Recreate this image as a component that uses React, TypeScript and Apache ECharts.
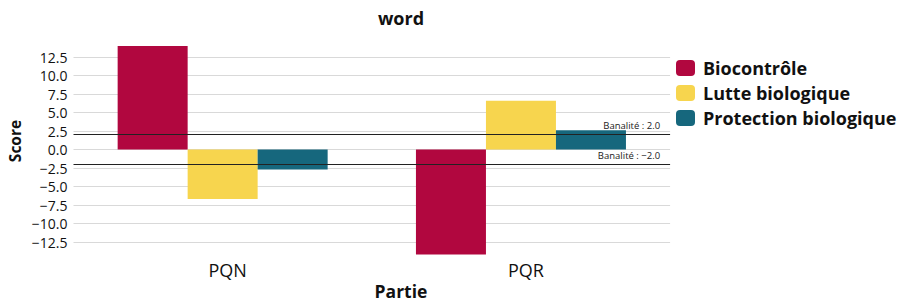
import React, { useEffect, useRef } from "react";
import * as echarts from "echarts";

const categories = ["PQN", "PQR"];
const seriesNames = ["Biocontrôle", "Lutte biologique", "Protection biologique"];
const biocontrole = [14.0, -14.2];
const lutte = [-6.7, 6.6];
const protection = [-2.7, 2.6];
const banalite = [2.0, -2.0];
const colors = ["#B1073F", "#F7D54E", "#16677D"];

const FONT = "Open Sans";

function fmt(v: number): string {
  const s = v.toFixed(1);
  return s.replace("-", "\u2212");
}

export default function App() {
  const ref = useRef<HTMLDivElement>(null);
  useEffect(() => {
    if (!ref.current) return;
    const chart = echarts.init(ref.current, undefined, { renderer: "svg" });
    const values = [biocontrole, lutte, protection];
    const series: any[] = seriesNames.map((name, i) => ({
      name,
      type: "bar",
      data: values[i],
      barWidth: 70,
      barGap: "0%",
      itemStyle: { color: colors[i] },
    }));
    series[0].markLine = {
      silent: true,
      symbol: "none",
      lineStyle: { color: "#222", width: 1, type: "solid" },
      label: {
        position: "insideEndTop",
        fontFamily: FONT,
        fontSize: 9.5,
        color: "#222",
        distance: [10, 4],
        formatter: (p: any) => "Banalité : " + fmt(p.value),
      },
      data: banalite.map((v) => ({ yAxis: v })),
    };
    chart.setOption({
      animation: false,
      textStyle: { fontFamily: FONT },
      graphic: [
        {
          type: "text",
          x: 401,
          y: 18,
          style: {
            text: "word",
            fontFamily: FONT,
            fontSize: 18,
            fontWeight: "bold",
            fill: "#111",
            textAlign: "center",
            textVerticalAlign: "middle",
          },
        },
        {
          type: "text",
          x: 401,
          y: 291,
          style: {
            text: "Partie",
            fontFamily: FONT,
            fontSize: 17.5,
            fontWeight: "bold",
            fill: "#111",
            textAlign: "center",
            textVerticalAlign: "middle",
          },
        },
        {
          type: "text",
          x: 15,
          y: 141,
          rotation: Math.PI / 2,
          style: {
            text: "Score",
            fontFamily: FONT,
            fontSize: 15.5,
            fontWeight: "bold",
            fill: "#111",
            textAlign: "center",
            textVerticalAlign: "middle",
          },
        },
      ],
      legend: {
        data: seriesNames,
        orient: "vertical",
        left: 676,
        top: 59,
        icon: "roundRect",
        itemWidth: 19,
        itemHeight: 16,
        itemGap: 7,
        padding: 0,
        textStyle: {
          fontFamily: FONT,
          fontSize: 18,
          lineHeight: 16,
          fontWeight: "bold",
          color: "#111",
          padding: [0, 0, 0, 3],
        },
      },
      grid: { left: 73.5, top: 38.5, width: 596.6, height: 222 },
      xAxis: {
        type: "category",
        data: categories,
        axisLine: { show: false, onZero: false },
        axisTick: { show: false },
        axisLabel: { fontFamily: FONT, fontSize: 18, color: "#111", margin: 0, padding: [0, 0, 0, 10] },
      },
      yAxis: {
        type: "value",
        min: -15,
        max: 15,
        interval: 2.5,
        axisLine: { show: false },
        axisTick: { show: false },
        axisLabel: {
          fontFamily: FONT,
          fontSize: 14,
          color: "#111",
          margin: 6,
          showMinLabel: false,
          showMaxLabel: false,
          formatter: (v: number) => fmt(v),
        },
        splitLine: {
          show: true,
          showMinLine: false,
          showMaxLine: false,
          lineStyle: { color: "#d9d9d9", width: 1 },
        },
      },
      series,
    });
    return () => chart.dispose();
  }, []);
  return (
    <div
      ref={ref}
      style={{ position: "fixed", left: 0, top: 0, width: 910, height: 305, background: "#fff" }}
    />
  );
}
